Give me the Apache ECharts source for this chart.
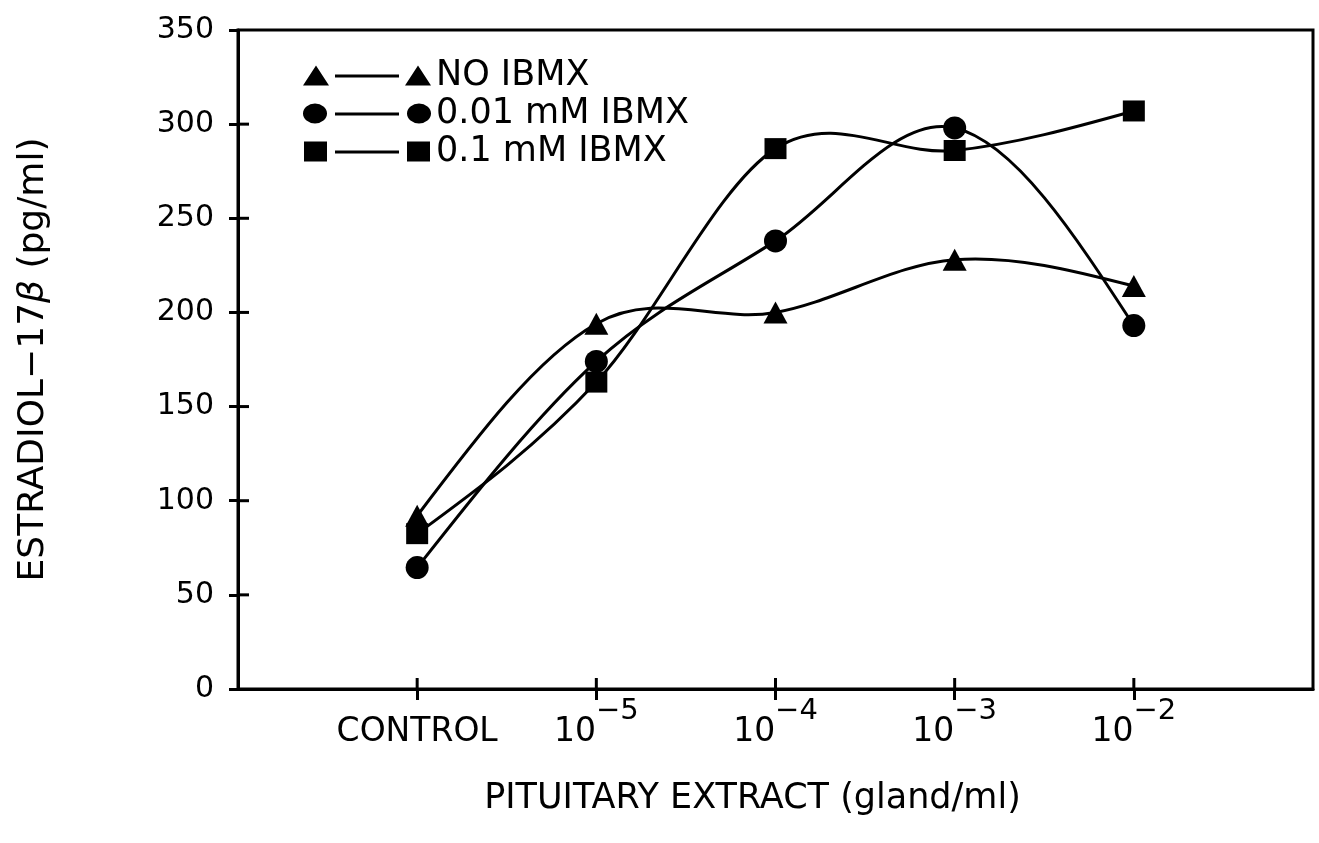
<!DOCTYPE html>
<html>
<head>
<meta charset="utf-8">
<script src="https://cdn.jsdelivr.net/npm/echarts@6/dist/echarts.min.js"></script>
<style>
  html, body { margin: 0; padding: 0; background: #fff; }
  #chart { width: 1319px; height: 843px; }
</style>
</head>
<body>
<div id="chart"></div>
<script>
// x positions 1..5 stand for the doses
const categories = ['CONTROL', '10|\u22125', '10|\u22124', '10|\u22123', '10|\u22122'];
const xPos = [1, 2, 3, 4, 5];
const noIbmx = [92, 194, 200, 228, 214];
const ibmx001 = [64.5, 174, 238, 298, 193];
const ibmx01 = [82.5, 163, 287, 286, 307];
const yTicks = [0, 50, 100, 150, 200, 250, 300, 350];

const FONT = '"DejaVu Sans", "Liberation Sans", sans-serif';
const LINE_W = 3;
const TICK_IN = 11;

// legend icons: marker —— marker
const LINE_PART = ' M32,9 L96,9 L96,12 L32,12 Z ';
const iconTri = 'path://M0,20 L13,0 L26,20 Z' + LINE_PART + 'M102,20 L115,0 L128,20 Z';
const iconCirc = 'path://M0,10 A12,10 0 1,0 24,10 A12,10 0 1,0 0,10 Z' + LINE_PART + 'M104,10 A12,10 0 1,0 128,10 A12,10 0 1,0 104,10 Z';
const iconSq = 'path://M1,0 L24,0 L24,20 L1,20 Z' + LINE_PART + 'M104,0 L127,0 L127,20 L104,20 Z';

function pairs(vals) {
  return xPos.map((x, i) => [x, vals[i]]);
}

function xLabel(v) {
  const c = categories[v - 1];
  if (!c) return '';
  if (c.indexOf('|') < 0) return '{c|' + c + '}';
  const p = c.split('|');
  return '{b|' + p[0] + '}{s|' + p[1] + '}';
}

// cubic spline look: catmull-rom tangents inside, natural ends
function tangents(pts) {
  const n = pts.length;
  const m = pts.map((p, k) => {
    if (k === 0 || k === n - 1) return null;
    return [(pts[k + 1][0] - pts[k - 1][0]) / 2, (pts[k + 1][1] - pts[k - 1][1]) / 2];
  });
  m[0] = [0, 1].map((d) => (3 * (pts[1][d] - pts[0][d]) - m[1][d]) / 2);
  m[n - 1] = [0, 1].map((d) => (3 * (pts[n - 1][d] - pts[n - 2][d]) - m[n - 2][d]) / 2);
  return m;
}

function curve(name, vals) {
  return {
    type: 'custom',
    name: name,
    coordinateSystem: 'cartesian2d',
    data: pairs(vals),
    silent: true,
    z: 2,
    itemStyle: { color: '#000' },
    renderItem: function (params, api) {
      const i = params.dataIndex;
      const n = vals.length;
      if (i >= n - 1) return { type: 'group', children: [] };
      const pts = xPos.map((x, k) => api.coord([x, vals[k]]));
      const m = tangents(pts);
      const a = pts[i], b = pts[i + 1];
      return {
        type: 'bezierCurve',
        shape: {
          x1: a[0], y1: a[1], x2: b[0], y2: b[1],
          cpx1: a[0] + m[i][0] / 3, cpy1: a[1] + m[i][1] / 3,
          cpx2: b[0] - m[i + 1][0] / 3, cpy2: b[1] - m[i + 1][1] / 3
        },
        style: { stroke: '#000', lineWidth: LINE_W, fill: null }
      };
    }
  };
}

function marks(name, vals, symbol, size) {
  return {
    type: 'line', name: name, data: pairs(vals),
    symbol: symbol, symbolSize: size, showSymbol: true,
    lineStyle: { opacity: 0 },
    itemStyle: { color: '#000' },
    z: 3
  };
}

// inner half of the crossing axis ticks
function innerTicks(points, dx, dy) {
  return {
    type: 'custom',
    coordinateSystem: 'cartesian2d',
    data: points,
    silent: true,
    z: 4,
    renderItem: function (params, api) {
      const p = api.coord(points[params.dataIndex]);
      return {
        type: 'polyline',
        shape: { points: [[p[0], p[1]], [p[0] + dx, p[1] + dy]] },
        style: { stroke: '#000', lineWidth: LINE_W, fill: null }
      };
    }
  };
}

const chart = echarts.init(document.getElementById('chart'));

const tickStyle = { color: '#000', width: LINE_W };

chart.setOption({
  animation: false,
  backgroundColor: '#fff',
  color: ['#000'],
  grid: {
    left: 238, right: 6, top: 30, bottom: 154,
    show: true, borderColor: '#000', borderWidth: LINE_W, backgroundColor: 'transparent'
  },
  legend: {
    orient: 'vertical',
    left: 298, top: 53,
    itemWidth: 128, itemHeight: 20, itemGap: 3,
    itemStyle: { color: '#000' },
    lineStyle: { color: '#000' },
    textStyle: { fontFamily: FONT, fontSize: 35, color: '#000', lineHeight: 35 },
    data: [
      { name: 'NO IBMX', icon: iconTri },
      { name: '0.01 mM IBMX', icon: iconCirc },
      { name: '0.1 mM IBMX', icon: iconSq }
    ]
  },
  xAxis: {
    type: 'value', min: 0, max: 6, interval: 1,
    name: 'PITUITARY EXTRACT (gland/ml)',
    nameLocation: 'middle', nameGap: 92,
    nameTextStyle: { fontFamily: FONT, fontSize: 35, color: '#000', padding: [0, 46, 0, 0] },
    splitLine: { show: false },
    axisLine: { show: true, onZero: false, lineStyle: tickStyle },
    axisTick: { show: true, customValues: xPos, length: 11, lineStyle: tickStyle },
    axisLabel: {
      customValues: xPos, margin: 8, formatter: xLabel,
      rich: {
        c: { fontFamily: FONT, fontSize: 33, color: '#000', lineHeight: 52, verticalAlign: 'bottom' },
        b: { fontFamily: FONT, fontSize: 33, color: '#000', lineHeight: 52, verticalAlign: 'bottom' },
        s: { fontFamily: FONT, fontSize: 29, color: '#000', lineHeight: 52, verticalAlign: 'top' }
      }
    }
  },
  yAxis: {
    type: 'value', min: 0, max: 350, interval: 50,
    name: '{n|ESTRADIOL\u221217}{i|\u03B2}{n| (pg/ml)}',
    nameLocation: 'middle', nameGap: 186,
    nameTextStyle: {
      fontFamily: FONT, fontSize: 36, color: '#000',
      rich: {
        n: { fontFamily: FONT, fontSize: 36, color: '#000' },
        i: { fontFamily: FONT, fontSize: 36, color: '#000', fontStyle: 'italic' }
      }
    },
    splitLine: { show: false },
    axisLine: { show: true, onZero: false, lineStyle: tickStyle },
    axisTick: { show: true, length: 9, customValues: yTicks, lineStyle: tickStyle },
    axisLabel: { margin: 24, fontFamily: FONT, fontSize: 30, color: '#000', customValues: yTicks }
  },
  series: [
    curve('NO IBMX', noIbmx),
    curve('0.01 mM IBMX', ibmx001),
    curve('0.1 mM IBMX', ibmx01),
    marks('NO IBMX', noIbmx, 'triangle', [24, 22]),
    marks('0.01 mM IBMX', ibmx001, 'circle', 23),
    marks('0.1 mM IBMX', ibmx01, 'rect', [22, 21]),
    innerTicks(xPos.map((x) => [x, 0]), 0, -TICK_IN),
    innerTicks(yTicks.slice(1, -1).map((y) => [0, y]), TICK_IN, 0)
  ]
});
</script>
</body>
</html>
